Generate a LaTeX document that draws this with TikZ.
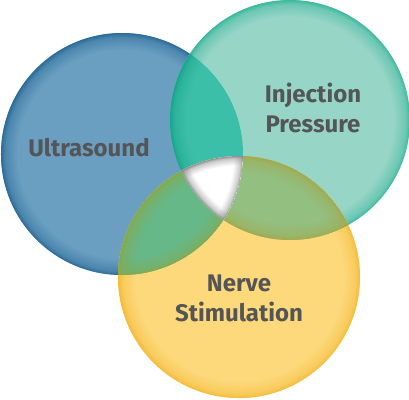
\documentclass[tikz,border=0pt]{standalone}
\usepackage{fontspec}
\setmainfont{Fira Sans}
\usetikzlibrary{fadings}
\definecolor{usblue}{HTML}{6A9FC2}
\definecolor{usblueedge}{HTML}{2A6A96}
\definecolor{ipteal}{HTML}{97D5C7}
\definecolor{iptealedge}{HTML}{38B89C}
\definecolor{nsyellow}{HTML}{FDD97B}
\definecolor{nsyellowedge}{HTML}{F4BA36}
\definecolor{usip}{HTML}{3CBFA8}
\definecolor{usipedge}{HTML}{1AA48C}
\definecolor{ipns}{HTML}{93BF80}
\definecolor{ipnsedge}{HTML}{A2AA4E}
\definecolor{usns}{HTML}{67B888}
\definecolor{usnsedge}{HTML}{86A94E}
\definecolor{lbgray}{HTML}{545556}
\pgfdeclareradialshading{rimshade}{\pgfpointorigin}{color(0bp)=(pgftransparent!100); color(21.5bp)=(pgftransparent!100); color(24bp)=(pgftransparent!55); color(25bp)=(pgftransparent!0); color(50bp)=(pgftransparent!0)}
\pgfdeclarefading{rimfade}{\pgfuseshading{rimshade}}
\pgfdeclareradialshading{thinshade}{\pgfpointorigin}{color(0bp)=(pgftransparent!100); color(23bp)=(pgftransparent!100); color(24.4bp)=(pgftransparent!55); color(25bp)=(pgftransparent!0); color(50bp)=(pgftransparent!0)}
\pgfdeclarefading{thinfade}{\pgfuseshading{thinshade}}

\begin{document}
\begin{tikzpicture}[x=1pt,y=-1pt,
    rim/.style={fill=#1,path fading=rimfade},
    thinrim/.style={fill=#1,path fading=thinfade},
    label/.style={font=\fontsize{24}{30}\selectfont\bfseries,text=lbgray,align=center}]
  \useasboundingbox (0,0) rectangle (409,399);
  \coordinate (us) at (122,154);
  \coordinate (ip) at (290,120);
  \coordinate (ns) at (239,277);
  \def\rUS{121}
  \def\rIP{120}
  \def\rNS{121}

  %% the three circles
  \fill[usblue] (us) circle[radius=\rUS];
  \fill[rim=usblueedge] (us) circle[radius=\rUS];
  \fill[ipteal] (ip) circle[radius=\rIP];
  \fill[rim=iptealedge] (ip) circle[radius=\rIP];
  \fill[nsyellow] (ns) circle[radius=\rNS];
  \fill[rim=nsyellowedge] (ns) circle[radius=\rNS];

  %% pairwise overlaps
  \begin{scope}
    \clip (us) circle[radius=\rUS];
    \clip (ip) circle[radius=\rIP];
    \fill[usip] (ip) circle[radius=\rIP];
    \fill[rim=usipedge] (ip) circle[radius=\rIP];
  \end{scope}
  \begin{scope}
    \clip (ip) circle[radius=\rIP];
    \clip (ns) circle[radius=\rNS];
    \fill[ipns] (ns) circle[radius=\rNS];
    \fill[rim=ipnsedge] (ns) circle[radius=\rNS];
    \fill[rim=ipnsedge] (ip) circle[radius=\rIP];
  \end{scope}
  \begin{scope}
    \clip (us) circle[radius=\rUS];
    \clip (ns) circle[radius=\rNS];
    \fill[usns] (ns) circle[radius=\rNS];
    \fill[rim=usnsedge] (ns) circle[radius=\rNS];
    \fill[rim=usnsedge] (us) circle[radius=\rUS];
  \end{scope}

  %% centre
  \begin{scope}
    \clip (us) circle[radius=\rUS];
    \clip (ip) circle[radius=\rIP];
    \clip (ns) circle[radius=\rNS];
    \fill[white] (ns) circle[radius=\rNS];
    \fill[thinrim=black!45] (ns) circle[radius=\rNS];
    \fill[thinrim=black!45] (us) circle[radius=\rUS];
    \fill[thinrim=black!45] (ip) circle[radius=\rIP];
  \end{scope}

  %% labels
  \node[label] (usl) at (89,148) {Ultrasound};
  \node[label] (ipl) at (313,108) {Injection\\Pressure};
  \node[label] (nsl) at (239,298) {Nerve\\Stimulation};
\end{tikzpicture}
\end{document}
